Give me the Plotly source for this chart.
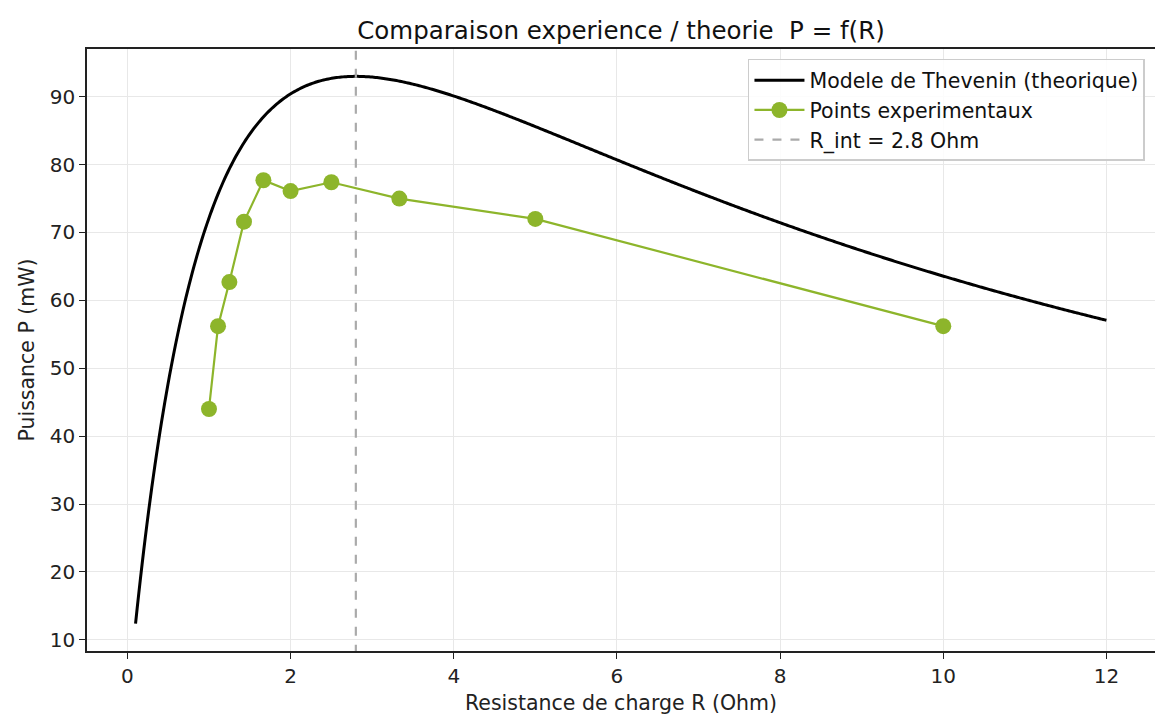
import numpy as np
import plotly.graph_objects as go

# Model parameters (Thevenin)
R_int = 2.8          # Ohm
P_max_mW = 93.0      # mW, max power at R = R_int
R_model_min, R_model_max = 0.1, 12.0

# Experimental data
R_exp = [1.0, 1.111, 1.25, 1.429, 1.667, 2.0, 2.5, 3.333, 5.0, 10.0]
P_exp = [44.0, 56.2, 62.7, 71.6, 77.7, 76.1, 77.4, 75.0, 72.0, 56.2]

x_ticks = [0, 2, 4, 6, 8, 10, 12]
y_ticks = [10, 20, 30, 40, 50, 60, 70, 80, 90]

E2 = P_max_mW * 4 * R_int
R_model = np.linspace(R_model_min, R_model_max, 600)
P_model = E2 * R_model / (R_model + R_int) ** 2

fig = go.Figure()
fig.add_trace(go.Scatter(x=R_model, y=P_model, mode="lines",
                         line=dict(color="black", width=3, simplify=False),
                         name="Modele de Thevenin (theorique)"))
fig.add_trace(go.Scatter(x=R_exp, y=P_exp, mode="lines+markers",
                         line=dict(color="#8db52b", width=2.2),
                         marker=dict(color="#8db52b", size=16),
                         name="Points experimentaux"))
fig.add_trace(go.Scatter(x=[R_int, R_int], y=[0, 200], mode="lines",
                         line=dict(color="#aaaaaa", width=2.2, dash="dash"),
                         name="R_int = %.1f Ohm" % R_int))

axis_common = dict(showline=True, linecolor="#222222", linewidth=1.5, mirror=True,
                   ticks="outside", ticklen=6, tickcolor="#222222", tickwidth=1.2,
                   showgrid=True, gridcolor="#e8e8e8", gridwidth=1.2, zeroline=False,
                   automargin=False,
                   tickfont=dict(size=20, color="#222222"))

fig.update_layout(
    width=1163, height=725,
    paper_bgcolor="white", plot_bgcolor="white",
    font=dict(family="DejaVu Sans", color="#222222"),
    margin=dict(l=79, r=16, t=41, b=82),
    title=dict(text="Comparaison experience / theorie  P = f(R)", x=(79 + (1163 - 16 - 79) / 2) / 1163,
               xanchor="center", y=1 - 22 / 725, yanchor="middle",
               font=dict(size=24.5, color="#111111")),
    xaxis=dict(range=[-0.495, 12.595], tickvals=x_ticks,
               title=dict(text="Resistance de charge R (Ohm)", font=dict(size=20.5), standoff=9),
               **axis_common),
    yaxis=dict(range=[8.35, 97.03], tickvals=y_ticks,
               title=dict(text="Puissance P (mW)", font=dict(size=20.5), standoff=10),
               **axis_common),
    legend=dict(x=0.9906, y=0.9834, xanchor="right", yanchor="top",
                bgcolor="rgba(255,255,255,0.85)", bordercolor="#cccccc", borderwidth=1.5,
                font=dict(size=20.5, color="#111111"), itemwidth=50, tracegroupgap=0),
    showlegend=True,
)

fig.write_html("out.html")
